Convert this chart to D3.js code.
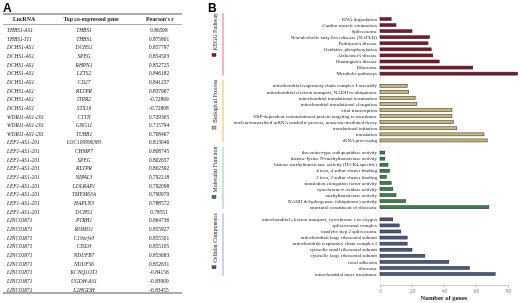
<!DOCTYPE html>
<html>
<head>
<meta charset="utf-8">
<script src="https://cdn.jsdelivr.net/npm/d3@7"></script>
<style>
  body { margin: 0; background: #fff; }
  svg { display: block; will-change: transform; }
</style>
</head>
<body>
<div id="chart"></div>
<script>
// ---- panel A data ----
var lncRNAs = ["THBS1-AS1", "THBS1-IT1",
    "DCHS1-AS1", "DCHS1-AS1", "DCHS1-AS1", "DCHS1-AS1", "DCHS1-AS1", "DCHS1-AS1", "DCHS1-AS1", "DCHS1-AS1",
    "WDR11-AS1-201", "WDR11-AS1-201", "WDR11-AS1-201",
    "LEF1-AS1-201", "LEF1-AS1-201", "LEF1-AS1-201", "LEF1-AS1-201", "LEF1-AS1-201", "LEF1-AS1-201", "LEF1-AS1-201", "LEF1-AS1-201", "LEF1-AS1-201",
    "LINC01871", "LINC01871", "LINC01871", "LINC01871", "LINC01871", "LINC01871", "LINC01871", "LINC01871", "LINC01871"];
var coGenes = ["THBS1", "THBS1",
    "DCHS1", "SPEG", "RHPN1", "LZTS2", "CD27", "RLTPR", "ITPR2", "STX19",
    "CTTN", "GNG11", "TUBB1",
    "LOC100996385", "CHMP7", "SPEG", "RLTPR", "NIPAL3", "LDLRAP1", "TMEM63A", "HAPLN3", "DCHS1",
    "PTRH1", "ROMO1", "C19orf43", "CISD3", "NDUFB7", "NDUFS6", "KCNQ1OT1", "UGDH-AS1", "L2HGDH"];
var pearson = ["0.86508", "0.875801",
    "0.857797", "0.854503", "0.852725", "0.846182", "0.841237", "0.837967", "-0.72869", "-0.72808",
    "0.729305", "0.715794", "0.708467",
    "0.813046", "0.808745", "0.802657", "0.802392", "0.792218", "0.792098", "0.790979", "0.788572", "0.78551",
    "0.864736", "0.855927", "0.855501", "0.855105", "0.853683", "0.852631", "-0.84156", "-0.83909", "-0.83455"];

// ---- panel B data ----
var groupNames = ["KEGG Pathway", "Biological Process", "Molecular Function", "Cellular Components"];
var keggTerms = ["RNA degradation", "Cardiac muscle contraction", "Spliceosome",
    "Non-alcoholic fatty liver disease (NAFLD)", "Parkinson's disease", "Oxidative phosphorylation",
    "Alzheimer's disease", "Huntington's disease", "Ribosome", "Metabolic pathways"];
var keggCounts = [7, 10, 20, 31, 30, 32, 33, 37, 58, 86];
var bpTerms = ["mitochondrial respiratory chain complex I assembly",
    "mitochondrial electron transport, NADH to ubiquinone",
    "mitochondrial translational termination", "mitochondrial translational elongation",
    "viral transcription", "SRP-dependent cotranslational protein targeting to membrane",
    "nuclear-transcribed mRNA catabolic process, nonsense-mediated decay",
    "translational initiation", "translation", "rRNA processing"];
var bpCounts = [17, 18, 22, 23, 45, 45, 46, 48, 65, 67];
var mfTerms = ["threonine-type endopeptidase activity", "histone-lysine N-methyltransferase activity",
    "histone methyltransferase activity (H3-K4 specific)", "4 iron, 4 sulfur cluster binding",
    "2 iron, 2 sulfur cluster binding", "translation elongation factor activity",
    "cytochrome-c oxidase activity", "methyltransferase activity",
    "NADH dehydrogenase (ubiquinone) activity", "structural constituent of ribosome"];
var mfCounts = [3, 3, 5, 6, 4, 7, 8, 10, 16, 68];
var ccTerms = ["mitochondrial electron transport, cytochrome c to oxygen", "spliceosomal complex",
    "catalytic step 2 spliceosome", "mitochondrial large ribosomal subunit",
    "mitochondrial respiratory chain complex I", "cytosolic small ribosomal subunit",
    "cytosolic large ribosomal subunit", "focal adhesion", "ribosome", "mitochondrial inner membrane"];
var ccCounts = [8, 12, 13, 17, 17, 20, 28, 43, 56, 72];
var xTicks = [0, 20, 40, 60, 80];

var barFill = ["#7a1a2c", "#c8b878", "#3e7f4c", "#4b5981"];
var lineColor = ["#e8707c", "#f2bf4a", "#8fd48f", "#8eaadb"];

var W = 520, H = 303;
var svg = d3.select("#chart").append("svg").attr("width", W).attr("height", H);
var serif = "'Liberation Serif', 'Times New Roman', serif";

// ================= Panel A: table =================
var tA = svg.append("g").attr("class", "table");
tA.append("text").attr("x", 3).attr("y", 12)
    .style("font", "bold 12px 'Liberation Sans', Arial, sans-serif").text("A");

var colX = [7, 84, 159];
var rowY0 = 30, rowStep = 8.65;

tA.append("line").attr("x1", 3).attr("x2", 182).attr("y1", 14).attr("y2", 14)
    .attr("stroke", "#555").attr("stroke-width", 1);
tA.append("line").attr("x1", 3).attr("x2", 182).attr("y1", 24.5).attr("y2", 24.5)
    .attr("stroke", "#777").attr("stroke-width", 0.6);
tA.append("line").attr("x1", 3).attr("x2", 182).attr("y1", rowY0 + 30 * rowStep + 3.5).attr("y2", rowY0 + 30 * rowStep + 3.5)
    .attr("stroke", "#555").attr("stroke-width", 1);

var hdr = tA.append("g").style("font", "bold 5.8px " + serif).attr("fill", "#222");
hdr.append("text").attr("x", 24).attr("y", 21).attr("text-anchor", "middle").text("LncRNA");
hdr.append("text").attr("x", 91).attr("y", 21).attr("text-anchor", "middle").text("Top co-expressed gene");
hdr.append("text").attr("x", 160).attr("y", 21).attr("text-anchor", "middle").text("Pearson's r");

var rows = tA.selectAll("g.row").data(d3.range(lncRNAs.length)).join("g")
    .attr("class", "row")
    .attr("transform", function(i) { return "translate(0," + (rowY0 + i * rowStep + 2) + ")"; })
    .style("font-size", "5.4px").style("font-family", serif).attr("fill", "#222");
rows.append("text").attr("x", colX[0]).style("font-style", "italic").text(function(i) { return lncRNAs[i]; });
rows.append("text").attr("x", colX[1]).attr("text-anchor", "middle").style("font-style", "italic")
    .text(function(i) { return coGenes[i]; });
rows.append("text").attr("x", colX[2]).attr("text-anchor", "middle").text(function(i) { return pearson[i]; });

// ================= Panel B: enrichment bars =================
var groups = [
    { name: groupNames[0], terms: keggTerms, counts: keggCounts },
    { name: groupNames[1], terms: bpTerms, counts: bpCounts },
    { name: groupNames[2], terms: mfTerms, counts: mfCounts },
    { name: groupNames[3], terms: ccTerms, counts: ccCounts }
];

// flatten with one empty slot between groups
var slots = [], bars = [];
groups.forEach(function(g, gi) {
    if (gi > 0) slots.push("gap" + gi);
    g.terms.forEach(function(t, ti) {
        var key = gi + ":" + t;
        slots.push(key);
        bars.push({ key: key, term: t, value: g.counts[ti], group: gi });
    });
});

var x = d3.scaleLinear().domain([0, 80]).range([380, 508]);
var y = d3.scalePoint().domain(slots).range([19, 274]);
var barH = 3;

svg.append("text").attr("x", 208).attr("y", 12)
    .style("font", "bold 12px 'Liberation Sans', Arial, sans-serif").text("B");

// faint y axis line
svg.append("line").attr("x1", x(0)).attr("x2", x(0)).attr("y1", 14).attr("y2", 285)
    .attr("stroke", "#ddd").attr("stroke-width", 0.6);

svg.append("g").selectAll("rect").data(bars).join("rect")
    .attr("x", x(0))
    .attr("y", function(d) { return y(d.key) - barH / 2; })
    .attr("width", function(d) { return x(d.value) - x(0); })
    .attr("height", barH)
    .attr("fill", function(d) { return barFill[d.group]; })
    .attr("stroke", "#222").attr("stroke-width", 0.5);

svg.append("g").selectAll("text").data(bars).join("text")
    .attr("x", 377)
    .attr("y", function(d) { return y(d.key) + 1.7; })
    .attr("text-anchor", "end")
    .style("font-size", "5px").style("font-family", serif).attr("fill", "#222")
    .text(function(d) { return d.term; });

// x axis
var xAxis = svg.append("g").attr("transform", "translate(0,285)")
    .call(d3.axisBottom(x).tickValues(xTicks).tickSize(2.5).tickPadding(1.5));
xAxis.select(".domain").attr("stroke", "#aaa").attr("stroke-width", 0.6);
xAxis.selectAll(".tick line").attr("stroke", "#aaa").attr("stroke-width", 0.6);
xAxis.selectAll(".tick text").style("font-size", "5.5px").style("font-family", serif).attr("fill", "#888");

svg.append("text").attr("x", 444).attr("y", 300).attr("text-anchor", "middle")
    .style("font", "bold 6.5px " + serif).attr("fill", "#222").text("Number of genes");

// group side lines and rotated legend labels
groups.forEach(function(g, gi) {
    var first = y(gi + ":" + g.terms[0]), last = y(gi + ":" + g.terms[g.terms.length - 1]);
    var top = first - 6, bot = last + 2;
    svg.append("line").attr("x1", 223).attr("x2", 223).attr("y1", top).attr("y2", bot)
        .attr("stroke", lineColor[gi]).attr("stroke-width", 1);

    var lab = svg.append("text")
        .attr("transform", "translate(216.5," + top + ") rotate(-90)")
        .attr("text-anchor", "end")
        .style("font-size", "5.8px").style("font-family", serif).attr("fill", "#222")
        .text(g.name);
    var len = lab.node().getComputedTextLength();
    svg.append("rect").attr("x", 212).attr("y", top + len + 3).attr("width", 4).attr("height", 3)
        .attr("fill", barFill[gi]).attr("stroke", "#222").attr("stroke-width", 0.4);
});
</script>
</body>
</html>
